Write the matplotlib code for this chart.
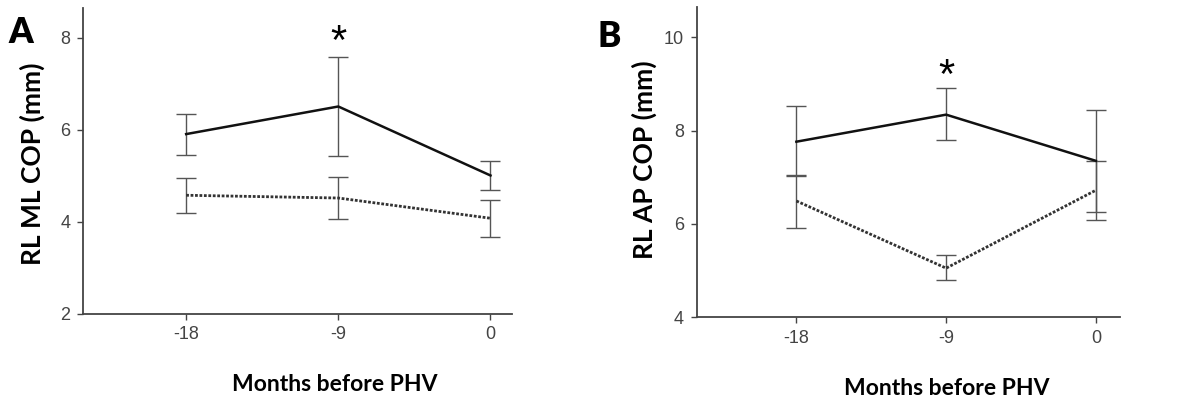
import matplotlib
matplotlib.use("Agg")
import matplotlib.pyplot as plt

months = [-18, -9, 0]
xtick_labels = ["-18", "-9", "0"]

# panel A: RL ML COP (mm)
ml_solid = [5.91, 6.51, 5.01]
ml_solid_lo = [5.45, 5.43, 4.69]
ml_solid_hi = [6.35, 7.59, 5.33]
ml_dotted = [4.58, 4.52, 4.08]
ml_dotted_lo = [4.20, 4.06, 3.67]
ml_dotted_hi = [4.96, 4.97, 4.48]

# panel B: RL AP COP (mm)
ap_solid = [7.76, 8.34, 7.35]
ap_solid_lo = [7.02, 7.80, 6.26]
ap_solid_hi = [8.52, 8.92, 8.45]
ap_dotted = [6.49, 5.05, 6.72]
ap_dotted_lo = [5.92, 4.80, 6.09]
ap_dotted_hi = [7.05, 5.34, 7.35]

label_font = ["Lato", "DejaVu Sans"]
tick_font = ["Liberation Sans", "DejaVu Sans"]


def draw_panel(ax, solid, s_lo, s_hi, dotted, d_lo, d_hi, ylim, yticks, ylabel):
    for mean, lo, hi in [(solid, s_lo, s_hi), (dotted, d_lo, d_hi)]:
        err = [[m - l for m, l in zip(mean, lo)], [h - m for m, h in zip(mean, hi)]]
        ax.errorbar(months, mean, yerr=err, fmt="none", ecolor="#555555",
                    elinewidth=1.0, capsize=7, capthick=1.0, zorder=2)
    ax.plot(months, solid, color="#111111", lw=1.8, ls="-", zorder=3)
    ax.plot(months, dotted, color="#333333", lw=2.0, ls=(0, (1, 0.6)), zorder=3)
    ax.set_xlim(-24.1, 1.3)
    ax.set_ylim(*ylim)
    ax.set_xticks(months)
    ax.set_xticklabels(xtick_labels, family=tick_font, fontsize=13, color="#444444")
    ax.set_yticks(yticks)
    ax.set_yticklabels([str(t) for t in yticks], family=tick_font, fontsize=13,
                       color="#444444")
    for s in ["top", "right"]:
        ax.spines[s].set_visible(False)
    for s in ["left", "bottom"]:
        ax.spines[s].set_color("#444444")
        ax.spines[s].set_linewidth(1.3)
    ax.tick_params(length=4, width=1.0, color="#444444", pad=5)
    ax.set_ylabel(ylabel, family=label_font, fontweight="bold", fontsize=19)
    ax.set_xlabel("Months before PHV", family=label_font, fontweight="bold",
                  fontsize=16.5)


fig = plt.figure(figsize=(12.03, 4.04), dpi=100)
ax_a = fig.add_axes([0.069, 0.223, 0.357, 0.757])
ax_b = fig.add_axes([0.579, 0.215, 0.352, 0.768])

draw_panel(ax_a, ml_solid, ml_solid_lo, ml_solid_hi,
           ml_dotted, ml_dotted_lo, ml_dotted_hi,
           (2, 8.65), [2, 4, 6, 8], "RL ML COP (mm)")
draw_panel(ax_b, ap_solid, ap_solid_lo, ap_solid_hi,
           ap_dotted, ap_dotted_lo, ap_dotted_hi,
           (4, 10.65), [4, 6, 8, 10], "RL AP COP (mm)")
ax_b.set_xlim(-24.0, 1.45)

# label positions (the x labels sit right of the axes centre in the original)
ax_a.xaxis.set_label_coords(0.587, -0.232)
ax_a.xaxis.label.set_va("center")
ax_b.xaxis.set_label_coords(0.591, -0.229)
ax_b.xaxis.label.set_va("center")
ax_a.yaxis.set_label_coords(-0.117, 0.49)
ax_a.yaxis.label.set_va("center")
ax_b.yaxis.set_label_coords(-0.123, 0.506)
ax_b.yaxis.label.set_va("center")

ax_a.text(-9, 7.46, "*", ha="center", va="bottom", fontsize=30, family=tick_font)
ax_b.text(-9, 8.72, "*", ha="center", va="bottom", fontsize=30, family=tick_font)

fig.text(0.0067, 0.894, "A", family=label_font, fontweight="heavy", fontsize=25,
         va="baseline")
fig.text(0.497, 0.884, "B", family=label_font, fontweight="heavy", fontsize=25,
         va="baseline")

fig.savefig("out.png", dpi=100)
